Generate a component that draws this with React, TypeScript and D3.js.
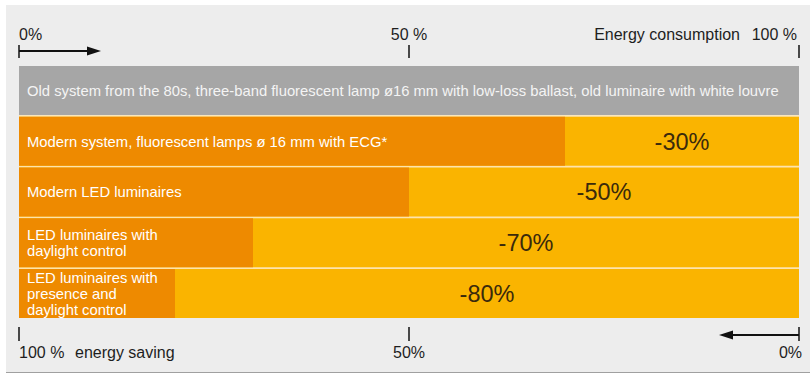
import React from "react";
import * as d3 from "d3";

const categories: string[] = [
  "Old system from the 80s, three-band fluorescent lamp ø16 mm with low-loss ballast, old luminaire with white louvre",
  "Modern system, fluorescent lamps ø 16 mm with ECG*",
  "Modern LED luminaires",
  "LED luminaires with\ndaylight control",
  "LED luminaires with\npresence and\ndaylight control",
];
const consumption: number[] = [100, 70, 50, 30, 20];
const savingLabels: string[] = ["", "-30%", "-50%", "-70%", "-80%"];
const topTicks: number[] = [0, 50, 100];
const topLabels: string[] = ["0%", "50 %", "100 %"];
const topTitle = "Energy consumption";
const bottomTicks: number[] = [0, 50, 100];
const bottomLabels: string[] = ["100 %", "50%", "0%"];
const bottomTitle = "energy saving";

const W = 810;
const H = 376;
const FONT = "'Liberation Sans', Arial, Helvetica, sans-serif";
const C = {
  bg: "#ededed",
  grey: "#a6a6a6",
  dark: "#ee8a00",
  light: "#fab400",
  gap: "#fde3ad",
  text: "#1e1e1e",
  pct: "#3a2a0c",
};

export default function App() {
  const x = d3.scaleLinear().domain([0, 100]).range([19, 799]);
  const y = d3
    .scaleBand<string>()
    .domain(categories)
    .range([66, 318])
    .paddingInner(0.035);
  const bw = y.bandwidth();
  const lh = 15.8;

  const orangeTop = y(categories[1])! - 1.5;

  const arrowHead = (tipX: number, yy: number, dir: number) => {
    const len = 14;
    const hh = 4.5;
    return `M${tipX},${yy} L${tipX - dir * len},${yy - hh} L${tipX - dir * len},${yy + hh} Z`;
  };

  const anchors = ["start", "middle", "end"];

  return (
    <div style={{ position: "absolute", left: 0, top: 0 }}>
      <svg width={W} height={H} style={{ display: "block", fontFamily: FONT }}>
        <rect x={0} y={0} width={W} height={H} fill="#ffffff" />
        <rect x={6} y={5} width={W - 6} height={367} fill={C.bg} />
        <line x1={6} x2={W} y1={372.5} y2={372.5} stroke="#a0a0a0" strokeWidth={1} />

        {/* cream backing behind orange bars */}
        <rect
          x={x(0)}
          y={orangeTop}
          width={x(100) - x(0)}
          height={318 - orangeTop}
          fill={C.gap}
        />

        {categories.map((cat, i) => {
          const yy = y(cat)!;
          const lines = cat.split("\n");
          const cy = yy + bw / 2;
          const firstY = cy - ((lines.length - 1) * lh) / 2;
          return (
            <g key={i}>
              {i === 0 ? (
                <rect x={x(0)} y={yy} width={x(100) - x(0)} height={bw} fill={C.grey} />
              ) : (
                <>
                  <rect x={x(0)} y={yy} width={x(100) - x(0)} height={bw} fill={C.light} />
                  <rect x={x(0)} y={yy} width={x(consumption[i]) - x(0)} height={bw} fill={C.dark} />
                  <text
                    x={(x(consumption[i]) + x(100)) / 2}
                    y={cy}
                    dy="0.36em"
                    textAnchor="middle"
                    fontSize={23.5}
                    fill={C.pct}
                  >
                    {savingLabels[i]}
                  </text>
                </>
              )}
              <text x={x(0) + 8} fontSize={14.8} fill={i === 0 ? "#f4f4f4" : "#ffffff"}>
                {lines.map((ln, j) => (
                  <tspan key={j} x={x(0) + 8} y={firstY + j * lh} dy="0.36em">
                    {ln}
                  </tspan>
                ))}
              </text>
            </g>
          );
        })}

        {/* top axis */}
        {topTicks.map((v, i) => (
          <g key={i}>
            <line x1={x(v)} x2={x(v)} y1={45} y2={58} stroke="#111" strokeWidth={1.5} />
            <text
              x={i === 2 ? x(v) - 2 : x(v)}
              y={40}
              textAnchor={anchors[i]}
              fontSize={16}
              fill={C.text}
            >
              {topLabels[i]}
            </text>
          </g>
        ))}
        <text x={x(100) - 59} y={40} textAnchor="end" fontSize={16} fill={C.text}>
          {topTitle}
        </text>
        <line x1={x(0)} x2={x(0) + 70} y1={51} y2={51} stroke="#111" strokeWidth={2} />
        <path d={arrowHead(x(0) + 82, 51, 1)} fill="#111" />

        {/* bottom axis */}
        {bottomTicks.map((v, i) => (
          <g key={i}>
            <line x1={x(v)} x2={x(v)} y1={327} y2={341} stroke="#111" strokeWidth={1.5} />
            <text
              x={i === 2 ? x(v) + 3 : x(v)}
              y={358}
              textAnchor={anchors[i]}
              fontSize={16}
              fill={C.text}
            >
              {bottomLabels[i]}
            </text>
          </g>
        ))}
        <text x={x(0) + 56} y={358} textAnchor="start" fontSize={16} fill={C.text}>
          {bottomTitle}
        </text>
        <line x1={x(100)} x2={x(100) - 68} y1={335} y2={335} stroke="#111" strokeWidth={2} />
        <path d={arrowHead(x(100) - 80, 335, -1)} fill="#111" />
      </svg>
    </div>
  );
}
